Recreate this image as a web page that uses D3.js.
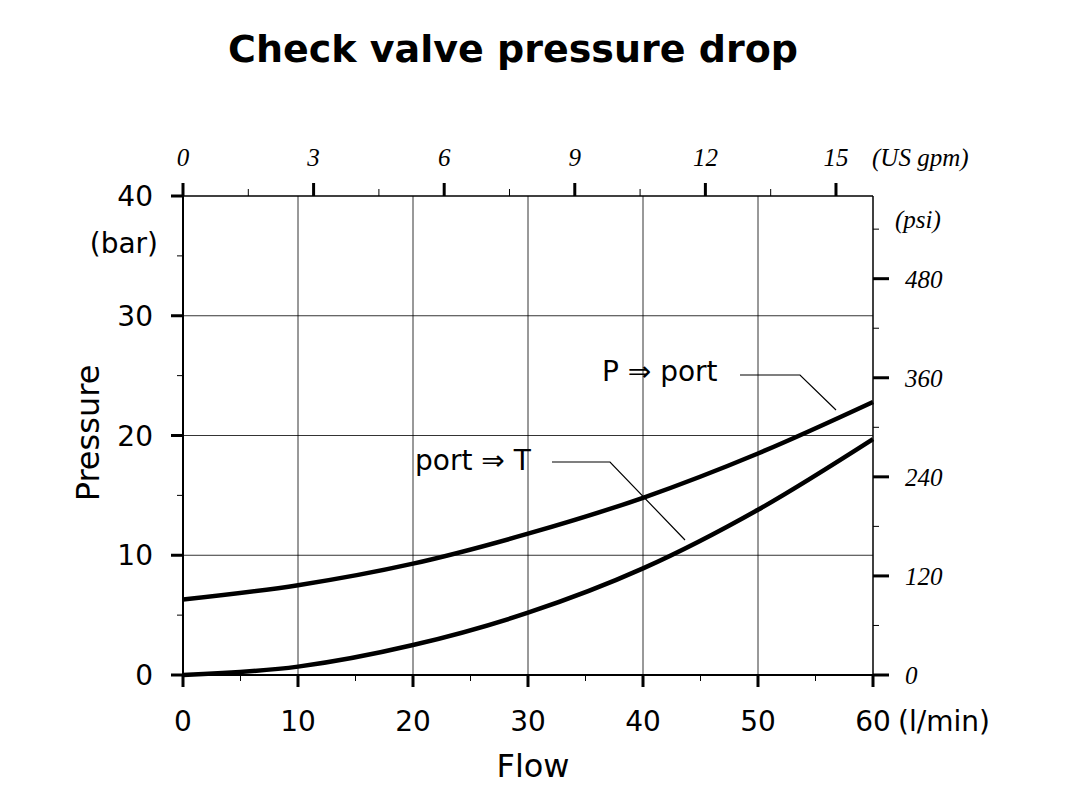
<!DOCTYPE html>
<html><head><meta charset="utf-8">
<script src="https://cdn.jsdelivr.net/npm/d3@7"></script>
<style>body{margin:0;background:#fff}</style>
</head><body>
<svg id="c" width="1078" height="808"></svg>
<script>
// data
var flow = [0, 10, 20, 30, 40, 50, 60]
var pToPort = [6.3, 7.5, 9.3, 11.8, 14.8, 18.5, 22.8]
var portToT = [0, 0.7, 2.5, 5.2, 8.9, 13.8, 19.7]
var barTicks = [0, 10, 20, 30, 40]
var gpmTicks = [0, 3, 6, 9, 12, 15]
var psiTicks = [0, 120, 240, 360, 480]

var svg = d3.select("#c")
var x = d3.scaleLinear().domain([0, 60]).range([183, 873])
var y = d3.scaleLinear().domain([0, 40]).range([675, 196])
var LPM_PER_GPM = 3.78541, PSI_PER_BAR = 14.5038
var xg = d3.scaleLinear().domain([0, 60 / LPM_PER_GPM]).range([183, 873])
var yp = d3.scaleLinear().domain([0, 40 * PSI_PER_BAR]).range([675, 196])

svg.append("text").attr("x", 513).attr("y", 62).attr("text-anchor", "middle")
   .style("font", "bold 38px Verdana, 'DejaVu Sans', sans-serif").text("Check valve pressure drop")

// grid
svg.selectAll(".gx").data(flow.slice(1, -1)).enter().append("line")
   .attr("x1", x).attr("x2", x).attr("y1", y(0)).attr("y2", y(40)).attr("stroke", "#000").attr("stroke-width", 0.8)
svg.selectAll(".gy").data(barTicks.slice(1, -1)).enter().append("line")
   .attr("x1", x(0)).attr("x2", x(60)).attr("y1", y).attr("y2", y).attr("stroke", "#000").attr("stroke-width", 0.8)
// frame
svg.append("line").attr("x1", x(0)).attr("x2", x(60)).attr("y1", y(40)).attr("y2", y(40)).attr("stroke", "#000").attr("stroke-width", 1.5)
svg.append("line").attr("x1", x(60)).attr("x2", x(60)).attr("y1", y(0)).attr("y2", y(40)).attr("stroke", "#000").attr("stroke-width", 1.5)
svg.append("line").attr("x1", x(0)).attr("x2", x(60)).attr("y1", y(0)).attr("y2", y(0)).attr("stroke", "#000").attr("stroke-width", 2)
svg.append("line").attr("x1", x(0)).attr("x2", x(0)).attr("y1", y(0)).attr("y2", y(40)).attr("stroke", "#000").attr("stroke-width", 2)

var sans = "'DejaVu Sans', Verdana, sans-serif", serif = "italic 25px 'Liberation Serif', 'Times New Roman', serif"

// bottom axis
svg.selectAll(".bt").data(flow).enter().append("line")
   .attr("x1", x).attr("x2", x).attr("y1", y(0)).attr("y2", y(0) + 12).attr("stroke", "#000").attr("stroke-width", 3)
svg.selectAll(".bm").data(d3.range(5, 60, 10)).enter().append("line")
   .attr("x1", x).attr("x2", x).attr("y1", y(0)).attr("y2", y(0) + 6).attr("stroke", "#000")
svg.selectAll(".bl").data(flow).enter().append("text")
   .attr("x", x).attr("y", 731).attr("text-anchor", "middle").style("font", "28px " + sans).text(d => d)
svg.append("text").attr("x", 898).attr("y", 731).style("font", "28px " + sans).text("(l/min)")
svg.append("text").attr("x", 533).attr("y", 777).attr("text-anchor", "middle").style("font", "32px " + sans).text("Flow")

// left axis
svg.selectAll(".lt").data(barTicks).enter().append("line")
   .attr("x1", x(0) - 12).attr("x2", x(0)).attr("y1", y).attr("y2", y).attr("stroke", "#000").attr("stroke-width", 3)
svg.selectAll(".lm").data(d3.range(5, 40, 10)).enter().append("line")
   .attr("x1", x(0) - 6).attr("x2", x(0)).attr("y1", y).attr("y2", y).attr("stroke", "#000")
svg.selectAll(".ll").data(barTicks).enter().append("text")
   .attr("x", 153).attr("y", d => y(d) + 10).attr("text-anchor", "end").style("font", "28px " + sans).text(d => d)
svg.append("text").attr("x", 158).attr("y", 253).attr("text-anchor", "end").style("font", "28px " + sans).text("(bar)")
svg.append("text").attr("transform", "translate(99,433) rotate(-90)").attr("text-anchor", "middle")
   .style("font", "32px " + sans).text("Pressure")

// top axis (US gpm)
svg.selectAll(".tt").data(gpmTicks).enter().append("line")
   .attr("x1", xg).attr("x2", xg).attr("y1", y(40)).attr("y2", y(40) - 13).attr("stroke", "#000").attr("stroke-width", 3)
svg.selectAll(".tm").data(d3.range(1.5, 15, 3)).enter().append("line")
   .attr("x1", xg).attr("x2", xg).attr("y1", y(40)).attr("y2", y(40) - 7).attr("stroke", "#000")
svg.selectAll(".tl").data(gpmTicks).enter().append("text")
   .attr("x", xg).attr("y", 166).attr("text-anchor", "middle").style("font", serif).text(d => d)
svg.append("text").attr("x", 872).attr("y", 166).style("font", serif).text("(US gpm)")

// right axis (psi)
svg.selectAll(".rt").data(psiTicks).enter().append("line")
   .attr("x1", x(60)).attr("x2", x(60) + 16).attr("y1", yp).attr("y2", yp).attr("stroke", "#000").attr("stroke-width", 3)
svg.selectAll(".rm").data(d3.range(60, 580, 120)).enter().append("line")
   .attr("x1", x(60)).attr("x2", x(60) + 6).attr("y1", yp).attr("y2", yp).attr("stroke", "#000")
svg.selectAll(".rl").data(psiTicks).enter().append("text")
   .attr("x", 905).attr("y", d => yp(d) + 9).style("font", serif).text(d => d)
svg.append("text").attr("x", 895).attr("y", 228).style("font", serif).text("(psi)")

// curves
var line = d3.line().x((d, i) => x(flow[i])).y(d => y(d)).curve(d3.curveMonotoneX)
;[pToPort, portToT].forEach(function(s) {
   svg.append("path").attr("d", line(s)).attr("fill", "none").attr("stroke", "#000").attr("stroke-width", 4.5)
})

// labels with leader lines
svg.append("text").attr("x", 602).attr("y", 381).style("font", "28px " + sans).text("P \u21D2 port")
svg.append("polyline").attr("points", "740,375 800,375 836,410").attr("fill", "none").attr("stroke", "#000").attr("stroke-width", 1.2)
svg.append("text").attr("x", 415).attr("y", 470).style("font", "28px " + sans).text("port \u21D2 T")
svg.append("polyline").attr("points", "552,462 610,462 685,540").attr("fill", "none").attr("stroke", "#000").attr("stroke-width", 1.2)
</script>
</body></html>
